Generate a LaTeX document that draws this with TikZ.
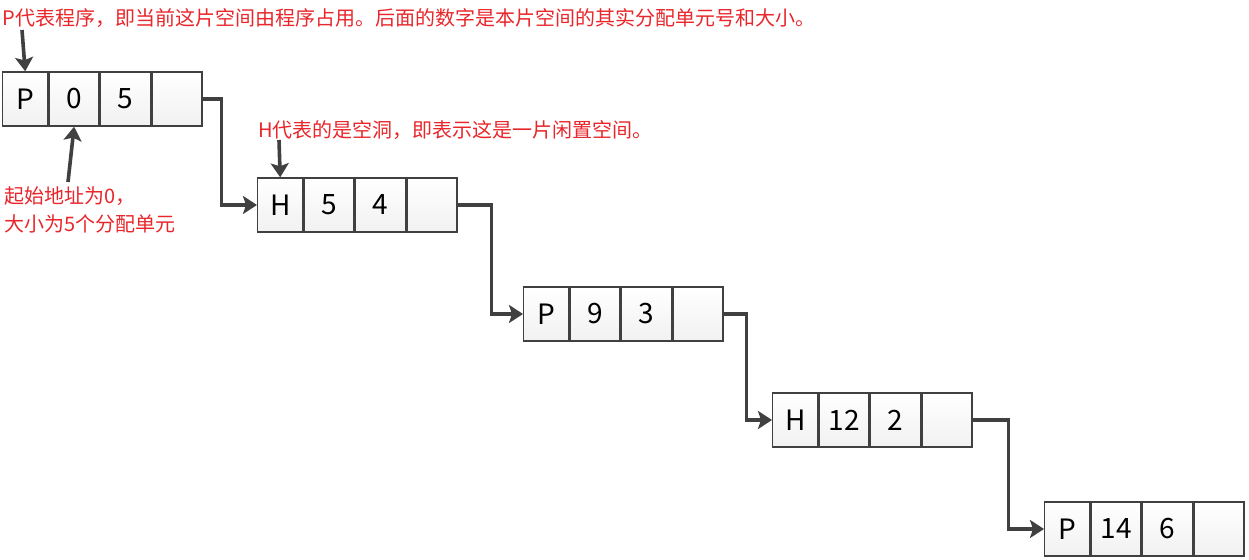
\documentclass[tikz,border=0pt]{standalone}
\usepackage{fontspec}
\setmainfont{Noto Sans CJK SC}
\usepackage{xcolor}
\usepackage{tikz}
\usetikzlibrary{arrows.meta}
\usetikzlibrary{calc}
\definecolor{notered}{HTML}{E8262B}
\definecolor{linegray}{HTML}{404040}

\begin{document}
\begin{tikzpicture}[x=0.5pt,y=-0.5pt,
    cell/.style={draw=linegray, line width=0.7pt, top color=white, bottom color=gray!11,
        minimum height=27pt, inner sep=0pt, anchor=west, font=\fontsize{14}{16}\selectfont},
    link/.style={draw=linegray, line width=1.8pt, -{Stealth[length=7pt,width=9pt,inset=1.5pt]}},
    note/.style={text=notered, inner sep=0pt, anchor=west, align=left,
        font=\fontsize{10}{14}\selectfont}]
    \useasboundingbox (0,0) rectangle (1249,560);
    % memory blocks: type / start / size / next
    \foreach \n/\x/\y/\t/\a/\s in {1/2/99/P/0/5, 2/257/205/H/5/4, 3/523/314/P/9/3, 4/772/420/H/12/2, 5/1044/529/P/14/6} {
        \node[cell, minimum width=22.5pt] (c\n-1) at (\x,\y) {\t};
        \node[cell, minimum width=25pt] (c\n-2) at (c\n-1.east) {\a};
        \node[cell, minimum width=25pt] (c\n-3) at (c\n-2.east) {\s};
        \node[cell, minimum width=25pt] (c\n-4) at (c\n-3.east) {};
    }
    % links to the next block
    \foreach \n/\m/\d in {1/2/19, 2/3/34, 3/4/23, 4/5/36} {
        \draw[link] (c\n-4.east) -- ++(\d,0) |- (c\m-1.west);
    }
    % notes
    \node[note] (ptext) at (2,18) {P代表程序，即当前这片空间由程序占用。后面的数字是本片空间的其实分配单元号和大小。};
    \node[note] (htext) at (258,130) {H代表的是空洞，即表示这是一片闲置空间。};
    \node[note] (stext) at (4,210) {起始地址为0，\\大小为5个分配单元};
    \coordinate (ptail) at (22,30);
    \coordinate (htail) at (279,140);
    \coordinate (stail) at (68,182);
    \draw[link] (ptail) -- (c1-1.north);
    \draw[link] (htail) -- (c2-1.north);
    \draw[link] (stail) -- (c1-2.south);
\end{tikzpicture}
\end{document}
